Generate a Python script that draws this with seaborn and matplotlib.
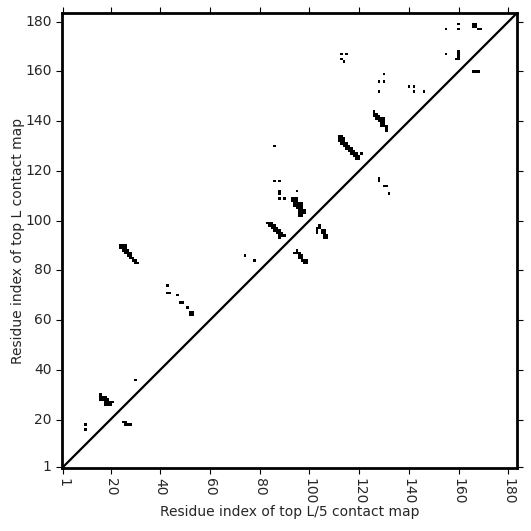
import numpy as np
import matplotlib
matplotlib.use("Agg")
import matplotlib.pyplot as plt
from matplotlib.colors import ListedColormap
import seaborn as sns

# ---------------------------------------------------------------------------
# data: contacts as (x residue, y residue)
# ---------------------------------------------------------------------------
L = 183
TICKS = [1, 20, 40, 60, 80, 100, 120, 140, 160, 180]

near_16_30 = [(16, 30), (16, 29), (17, 29), (18, 29), (16, 28), (17, 28), (18, 28), (19, 28),
              (18, 27), (19, 27), (20, 27), (21, 27), (18, 26), (19, 26), (20, 26)]
near_10_17 = [(10, 18), (10, 16)]
near_26_18 = [(25, 19), (26, 19), (26, 18), (27, 18), (28, 18)]
near_30_36 = [(30, 36)]

band_24_90 = [(24, 90), (25, 90), (26, 90), (24, 89), (25, 89), (26, 89),
              (25, 88), (26, 88), (27, 88), (26, 87), (27, 87), (28, 87),
              (27, 86), (28, 86), (28, 85), (29, 85), (29, 84), (30, 84),
              (30, 83), (31, 83)]
band_43_74 = [(43, 74), (43, 71), (44, 71), (47, 70), (48, 67), (49, 67), (51, 65),
              (52, 63), (53, 63), (52, 62), (53, 62)]
dots_74_86 = [(74, 86), (78, 84)]

band_83_99 = [(83, 99), (84, 99), (85, 99), (84, 98), (85, 98), (86, 98),
              (85, 97), (86, 97), (87, 97), (86, 96), (87, 96), (88, 96),
              (87, 95), (88, 95), (89, 95), (88, 94), (89, 94), (90, 94), (88, 93)]
band_93_109 = [(93, 109), (94, 109), (95, 109), (93, 108), (94, 108), (95, 108),
               (94, 107), (95, 107), (96, 107), (97, 107), (94, 106), (95, 106), (96, 106),
               (97, 106), (95, 105), (96, 105), (97, 105), (96, 104), (97, 104), (98, 104),
               (96, 103), (97, 103), (98, 103), (96, 102), (97, 102)]
dots_86_130 = [(86, 130), (86, 116), (88, 116), (88, 112), (88, 111),
               (88, 109), (90, 109), (95, 112)]
band_102_98 = [(104, 98), (103, 97), (104, 97), (103, 96), (105, 96), (106, 96),
               (103, 95), (105, 95), (106, 95), (106, 94), (107, 94), (106, 93), (107, 93)]
band_94_88 = [(95, 88), (94, 87), (95, 87), (96, 87), (96, 86), (97, 86), (96, 85),
              (97, 85), (97, 84), (98, 84), (99, 84), (98, 83), (99, 83)]

band_112_134 = [(112, 134), (113, 134), (112, 133), (113, 133), (114, 133),
                (112, 132), (113, 132), (114, 132), (113, 131), (114, 131), (115, 131),
                (114, 130), (115, 130), (116, 130), (115, 129), (116, 129), (117, 129),
                (116, 128), (117, 128), (118, 128), (117, 127), (118, 127), (119, 127),
                (121, 127), (118, 126), (119, 126), (120, 126), (119, 125), (120, 125)]
band_126_144 = [(126, 144), (126, 143), (127, 143), (126, 142), (127, 142), (128, 142),
                (127, 141), (128, 141), (129, 141), (130, 141), (128, 140), (129, 140),
                (130, 140), (129, 139), (130, 139), (129, 138), (130, 138), (131, 138),
                (131, 137), (131, 136)]
dots_128_116 = [(128, 117), (128, 116), (130, 114), (131, 114), (132, 111)]

dots_113_167 = [(113, 167), (115, 167), (113, 165), (114, 164)]
dots_128_159 = [(130, 159), (128, 156), (130, 156), (128, 152)]
dots_140_154 = [(140, 154), (142, 154), (142, 152), (146, 152)]
top_right = [(155, 177), (160, 179), (160, 177), (166, 179), (167, 179), (166, 178),
             (167, 178), (168, 177), (169, 177), (155, 167), (159, 165), (160, 165),
             (160, 166), (160, 167), (160, 168), (166, 160), (167, 160), (168, 160)]

groups = [near_16_30, near_10_17, near_26_18, near_30_36, band_24_90, band_43_74,
          dots_74_86, band_83_99, band_93_109, dots_86_130, band_102_98, band_94_88,
          band_112_134, band_126_144, dots_128_116, dots_113_167, dots_128_159,
          dots_140_154, top_right]

# ---------------------------------------------------------------------------
# contact matrix (row = y residue, col = x residue)
# ---------------------------------------------------------------------------
mat = np.zeros((L, L))
for g in groups:
    for i, j in g:
        mat[j - 1, i - 1] = 1

fig = plt.figure(figsize=(5.31, 5.31), dpi=100)
ax = fig.add_axes([0.1168, 0.1186, 0.8568, 0.8568])

sns.heatmap(mat, cmap=ListedColormap(['white', 'black']), vmin=0, vmax=1,
            cbar=False, linewidths=0, ax=ax, rasterized=True)

ax.set_xlim(0, L)
ax.set_ylim(0, L)
ax.plot([0, L], [0, L], color='black', lw=1.6)

for s in ax.spines.values():
    s.set_visible(True)
    s.set_linewidth(2)
    s.set_color('black')

pos = [t - 0.5 for t in TICKS]
ax.set_xticks(pos)
ax.set_xticklabels([str(t) for t in TICKS], rotation=270)
ax.set_yticks(pos)
ax.set_yticklabels([str(t) for t in TICKS], rotation=0)
ax.tick_params(top=True, right=True, direction='out', length=4, width=0.8,
               labelsize=10, colors='black')
ax.tick_params(axis='x', labelcolor='#262626')
ax.tick_params(axis='y', labelcolor='#262626')

ax.set_xlabel('Residue index of top L/5 contact map', fontsize=10, color='#262626',
              labelpad=0)
ax.set_ylabel('Residue index of top L contact map', fontsize=10, color='#262626',
              labelpad=0)

plt.savefig('out.png', dpi=100)
plt.close()
